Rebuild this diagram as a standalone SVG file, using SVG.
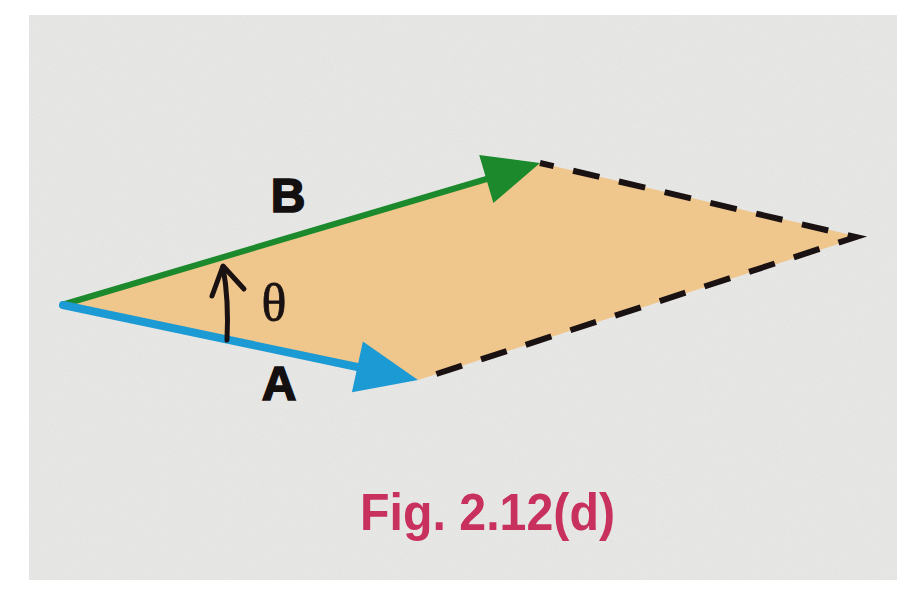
<svg xmlns="http://www.w3.org/2000/svg" width="912" height="589" viewBox="0 0 912 589">
  <defs>
    <filter id="paper" x="0" y="0" width="100%" height="100%">
      <feTurbulence type="fractalNoise" baseFrequency="0.9" numOctaves="2" seed="3" result="n"/>
      <feColorMatrix in="n" type="matrix" values="0 0 0 0 1  0 0 0 0 1  0 0 0 0 1  0 0 0 0.35 -0.1" result="spots"/>
      <feComposite in="spots" in2="SourceGraphic" operator="atop"/>
    </filter>
  </defs>
  <style>
    .lbl { font-family: "Liberation Sans", Arial, sans-serif; font-weight: bold; fill: #141010; stroke: #141010; stroke-width: 1.6; }
    .theta { font-family: "Liberation Serif", "DejaVu Serif", serif; fill: #1a1212; stroke: #1a1212; stroke-width: 0.8; }
    .dash { fill: none; stroke: #1a1212; stroke-width: 6; stroke-dasharray: 27 20; stroke-linejoin: miter; }
    .cap { font-family: "Liberation Sans", Arial, sans-serif; font-weight: bold; fill: #c8305e; }
  </style>
  <rect x="0" y="0" width="912" height="589" fill="#ffffff"/>
  <rect x="29" y="15" width="868" height="565" fill="#e3e3e1" filter="url(#paper)"/>

  <g id="parallelogram">
    <polygon points="65,304 540,163 860,237 418,380" fill="#efc68b"/>
  </g>

  <g id="connectors">
    <path class="dash" d="M540,163 L856,237 L418,380" stroke-dashoffset="13"/>
    <g id="vectorB">
      <line x1="65" y1="304" x2="490" y2="178" stroke="#1c8a2c" stroke-width="6" stroke-linecap="round"/>
      <polygon points="540,163 493.4,202.9 479.2,154.9" fill="#1c8a2c"/>
    </g>
    <g id="vectorA">
      <line x1="63" y1="305" x2="362" y2="368" stroke="#1b9ad3" stroke-width="8" stroke-linecap="round"/>
      <polygon points="418,380 351.9,392.3 362.9,341.5" fill="#1b9ad3"/>
    </g>
    <g id="angle-arrow" fill="none" stroke="#1a1212" stroke-width="5" stroke-linecap="round" stroke-linejoin="round">
      <path d="M227,340 Q229,300 223,267"/>
      <polyline points="212,296 223,266 244,289"/>
    </g>
  </g>

  <g id="label-B"><text class="lbl" x="288" y="212" font-size="48" text-anchor="middle">B</text></g>
  <g id="label-A"><text class="lbl" x="279" y="400" font-size="48" text-anchor="middle">A</text></g>
  <g id="label-theta"><text class="theta" x="274" y="320" font-size="52" text-anchor="middle">θ</text></g>
  <g id="caption"><text class="cap" x="360" y="530" font-size="52" textLength="255" lengthAdjust="spacingAndGlyphs">Fig. 2.12(d)</text></g>
</svg>
